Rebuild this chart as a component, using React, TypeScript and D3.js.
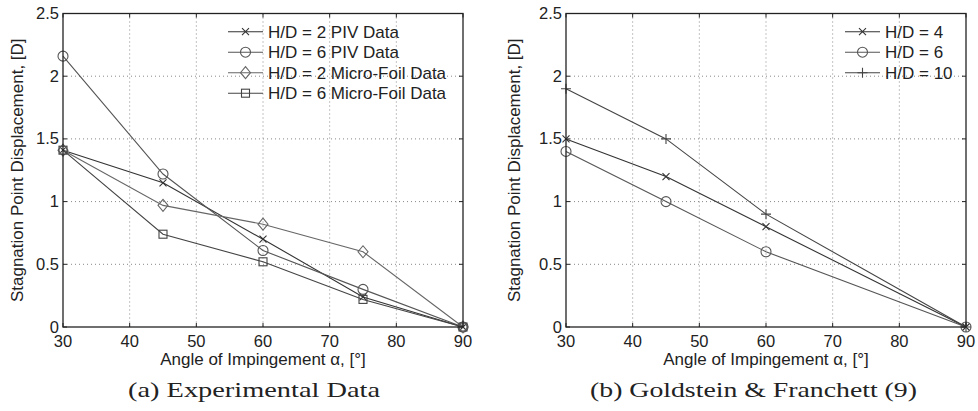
import React from "react";
import * as d3 from "d3";

const anglesA = [30, 45, 60, 75, 90];
const piv2 = [1.41, 1.15, 0.70, 0.24, 0];
const piv6 = [2.16, 1.22, 0.61, 0.30, 0];
const foil2 = [1.41, 0.97, 0.82, 0.60, 0];
const foil6 = [1.41, 0.74, 0.52, 0.22, 0];

const anglesB = [30, 45, 60, 90];
const hd4 = [1.5, 1.2, 0.8, 0];
const hd6 = [1.4, 1.0, 0.6, 0];
const hd10 = [1.9, 1.5, 0.9, 0];

const xTicks = [30, 40, 50, 60, 70, 80, 90];
const yTicks = [0, 0.5, 1, 1.5, 2, 2.5];
const yTickLabels = ["0", "0.5", "1", "1.5", "2", "2.5"];

const xLabel = "Angle of Impingement \u03b1, [\u00b0]";
const yLabel = "Stagnation Point Displacement, [D]";

type Series = { name: string; x: number[]; y: number[]; marker: string; color: string };

const seriesA: Series[] = [
  { name: "H/D = 2 PIV Data", x: anglesA, y: piv2, marker: "x", color: "#333" },
  { name: "H/D = 6 PIV Data", x: anglesA, y: piv6, marker: "o", color: "#555" },
  { name: "H/D = 2 Micro-Foil Data", x: anglesA, y: foil2, marker: "d", color: "#666" },
  { name: "H/D = 6 Micro-Foil Data", x: anglesA, y: foil6, marker: "s", color: "#444" },
];
const seriesB: Series[] = [
  { name: "H/D = 4", x: anglesB, y: hd4, marker: "x", color: "#333" },
  { name: "H/D = 6", x: anglesB, y: hd6, marker: "o", color: "#555" },
  { name: "H/D = 10", x: anglesB, y: hd10, marker: "+", color: "#444" },
];

const FONT = "'Liberation Sans', Arial, Helvetica, sans-serif";

function Marker({ type, cx, cy, color }: { type: string; cx: number; cy: number; color: string }) {
  const st = { fill: "none", stroke: color, strokeWidth: 1.1 };
  if (type === "o") return <circle cx={cx} cy={cy} r={5} {...st} />;
  if (type === "s") return <rect x={cx - 4} y={cy - 4} width={8} height={8} {...st} />;
  if (type === "d")
    return <path d={`M${cx},${cy - 6}L${cx + 5},${cy}L${cx},${cy + 6}L${cx - 5},${cy}Z`} {...st} />;
  if (type === "x")
    return <path d={`M${cx - 3.5},${cy - 3.5}L${cx + 3.5},${cy + 3.5}M${cx - 3.5},${cy + 3.5}L${cx + 3.5},${cy - 3.5}`} {...st} />;
  if (type === "+")
    return <path d={`M${cx - 5},${cy}L${cx + 5},${cy}M${cx},${cy - 5}L${cx},${cy + 5}`} {...st} />;
  return null;
}

function Panel({ left, right, series, legendX, caption, captionX, captionLen, yLabelX }: {
  left: number; right: number; series: Series[]; legendX: number; caption: string; captionX: number; captionLen: number; yLabelX: number;
}) {
  const top = 13.5, bottom = 327;
  const x = d3.scaleLinear().domain([30, 90]).range([left, right]);
  const y = d3.scaleLinear().domain([0, 2.5]).range([bottom, top]);
  const line = d3.line<[number, number]>().x((d) => x(d[0])).y((d) => y(d[1]));
  const tl = 4;
  return (
    <g>
      {/* grid */}
      {xTicks.slice(1, -1).map((t) => (
        <line key={"gx" + t} x1={x(t)} x2={x(t)} y1={top} y2={bottom} stroke="#888" strokeWidth={1} strokeDasharray="1,3" />
      ))}
      {yTicks.slice(1, -1).map((t) => (
        <line key={"gy" + t} x1={left} x2={right} y1={y(t)} y2={y(t)} stroke="#888" strokeWidth={1} strokeDasharray="1,3" />
      ))}
      {/* ticks */}
      {xTicks.map((t) => (
        <g key={"tx" + t}>
          <line x1={x(t)} x2={x(t)} y1={bottom} y2={bottom - tl} stroke="#222" />
          <line x1={x(t)} x2={x(t)} y1={top} y2={top + tl} stroke="#222" />
          <text x={x(t)} y={347} textAnchor="middle" fontSize={16.5} fontFamily={FONT} fill="#222">{t}</text>
        </g>
      ))}
      {yTicks.map((t, i) => (
        <g key={"ty" + t}>
          <line x1={left} x2={left + tl} y1={y(t)} y2={y(t)} stroke="#222" />
          <line x1={right} x2={right - tl} y1={y(t)} y2={y(t)} stroke="#222" />
          <text x={left - 4} y={y(t) + 5.5} textAnchor="end" fontSize={16.5} fontFamily={FONT} fill="#222">{yTickLabels[i]}</text>
        </g>
      ))}
      {/* series */}
      {series.map((s) => {
        const pts = s.x.map((v, i) => [v, s.y[i]] as [number, number]);
        return (
          <g key={s.name}>
            <path d={line(pts) || ""} fill="none" stroke={s.color} strokeWidth={1.1} />
            {pts.map((p, i) => (
              <Marker key={i} type={s.marker} cx={x(p[0])} cy={y(p[1])} color={s.color} />
            ))}
          </g>
        );
      })}
      {/* box */}
      <rect x={left} y={top} width={right - left} height={bottom - top} fill="none" stroke="#222" strokeWidth={1.3} />
      {/* legend */}
      {series.map((s, i) => {
        const ly = 31.7 + i * 20.5;
        return (
          <g key={"lg" + s.name}>
            <line x1={legendX} x2={legendX + 35} y1={ly} y2={ly} stroke={s.color} strokeWidth={1.1} />
            <Marker type={s.marker} cx={legendX + 17.5} cy={ly} color={s.color} />
            <text x={legendX + 40} y={ly + 6} fontSize={17} fontFamily={FONT} fill="#222">{s.name}</text>
          </g>
        );
      })}
      {/* axis labels */}
      <text x={(left + right) / 2} y={365} textAnchor="middle" fontSize={17} fontFamily={FONT} fill="#222">{xLabel}</text>
      <text transform={`translate(${yLabelX},${(top + bottom) / 2}) rotate(-90)`} textAnchor="middle" fontSize={17} fontFamily={FONT} fill="#222">{yLabel}</text>
      <text x={captionX} y={397} textAnchor="middle" fontSize={22} fontFamily="'Liberation Serif', 'Times New Roman', serif" fill="#222" textLength={captionLen} lengthAdjust="spacingAndGlyphs">{caption}</text>
    </g>
  );
}

export default function App() {
  return (
    <svg width={978} height={411} style={{ position: "absolute", left: 0, top: 0, background: "#fff" }}>
      <rect width={978} height={411} fill="#fff" />
      <Panel left={63} right={463} series={seriesA} legendX={228} caption="(a) Experimental Data" captionX={254} captionLen={252} yLabelX={23} />
      <Panel left={566} right={966} series={seriesB} legendX={845} caption="(b) Goldstein & Franchett (9)" captionX={753.5} captionLen={327} yLabelX={520} />
    </svg>
  );
}
